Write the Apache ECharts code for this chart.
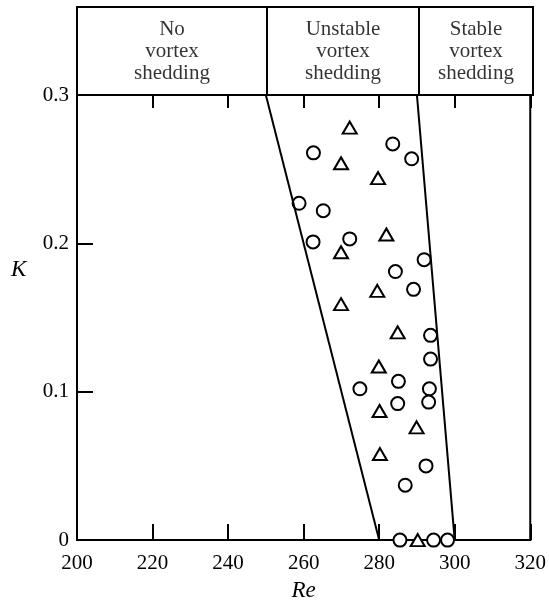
<!DOCTYPE html>
<html>
<head>
<meta charset="utf-8">
<script src="https://cdn.jsdelivr.net/npm/echarts@6/dist/echarts.min.js"></script>
<style>
html,body{margin:0;padding:0;background:#fff;}
#chart{width:549px;height:607px;}
</style>
</head>
<body>
<div id="chart"></div>
<script>
// ---- data ----
var xTicks = [200, 220, 240, 260, 280, 300, 320];
var yTicks = [0, 0.1, 0.2, 0.3];
var regionNames = ['No\nvortex\nshedding', 'Unstable\nvortex\nshedding', 'Stable\nvortex\nshedding'];
// boundaries: [Re at K=0.3, K=0.3] -> [Re at K=0, K=0]
var leftBoundary = [[250, 0.3], [280, 0]];
var rightBoundary = [[290, 0.3], [300, 0]];
var headerTop = 0.36;

var circleRe = [283.6, 262.6, 288.6, 258.8, 265.2, 262.5, 272.2, 291.9, 284.3, 289.1, 293.6, 293.6, 285.1, 274.9, 293.3, 293.1, 284.9, 292.4, 286.9, 285.5, 294.4, 298.1];
var circleK  = [0.267, 0.261, 0.257, 0.227, 0.222, 0.201, 0.203, 0.189, 0.181, 0.169, 0.138, 0.122, 0.107, 0.102, 0.102, 0.093, 0.092, 0.050, 0.037, 0, 0, 0];
var triRe = [272.2, 269.9, 279.7, 281.9, 269.9, 279.5, 269.9, 284.9, 279.9, 280.1, 289.9, 280.2, 290.2];
var triK  = [0.278, 0.254, 0.244, 0.206, 0.194, 0.168, 0.159, 0.140, 0.117, 0.087, 0.076, 0.058, 0];

// ---- build ----
var xMin = xTicks[0], xMax = xTicks[xTicks.length - 1];
var kMax = yTicks[yTicks.length - 1];
function zip(a, b) { return a.map(function (v, i) { return [v, b[i]]; }); }
var bounds = [xMin, leftBoundary[0][0], rightBoundary[0][0], xMax];
var regionCenters = regionNames.map(function (n, i) {
  return { value: [(bounds[i] + bounds[i + 1]) / 2, (kMax + headerTop) / 2], name: n };
});

var FONT = 'Liberation Serif';
var chart = echarts.init(document.getElementById('chart'));
chart.setOption({
  animation: false,
  backgroundColor: '#fff',
  grid: [
    { left: 77, right: 16, top: 95, bottom: 60, show: true, borderColor: '#000', borderWidth: 2, backgroundColor: 'transparent' },
    { left: 77, right: 16, top: 7, height: 88, show: true, borderColor: '#000', borderWidth: 2, backgroundColor: 'transparent' }
  ],
  graphic: [
    {
      type: 'text', left: 11, top: 258,
      style: { text: 'K', fill: '#000', font: 'italic 23px "Liberation Serif"' }
    }
  ],
  xAxis: [
    {
      gridIndex: 0, type: 'value', position: 'bottom', min: xMin, max: xMax, interval: 20,
      splitLine: { show: false },
      axisLine: { show: true, onZero: false, lineStyle: { color: '#000', width: 2 } },
      axisTick: { show: true, inside: true, length: 16, lineStyle: { color: '#000', width: 2 } },
      axisLabel: { show: true, color: '#000', fontFamily: FONT, fontSize: 21, margin: 13, showMinLabel: true, showMaxLabel: true },
      name: 'Re', nameLocation: 'middle', nameGap: 35,
      nameTextStyle: { color: '#000', fontFamily: FONT, fontSize: 23, fontStyle: 'italic' }
    },
    {
      gridIndex: 0, type: 'value', position: 'top', min: xMin, max: xMax, interval: 20,
      splitLine: { show: false },
      axisLine: { show: true, onZero: false, lineStyle: { color: '#000', width: 2 } },
      axisTick: { show: true, inside: true, length: 13, lineStyle: { color: '#000', width: 2 } },
      axisLabel: { show: false }
    },
    { gridIndex: 1, type: 'value', min: xMin, max: xMax, show: false }
  ],
  yAxis: [
    {
      gridIndex: 0, type: 'value', min: 0, max: kMax, interval: 0.1,
      splitLine: { show: false },
      axisLine: { show: true, onZero: false, lineStyle: { color: '#000', width: 2 } },
      axisTick: { show: true, inside: true, length: 16, lineStyle: { color: '#000', width: 2 } },
      axisLabel: {
        show: true, color: '#000', fontFamily: FONT, fontSize: 21, margin: 8,
        formatter: function (v) { return v === 0 ? '0' : v.toFixed(1); }
      }
    },
    { gridIndex: 1, type: 'value', min: kMax, max: headerTop, show: false }
  ],
  series: [
    {
      type: 'line', xAxisIndex: 0, yAxisIndex: 0, data: leftBoundary, symbol: 'none', clip: false,
      lineStyle: { color: '#000', width: 2 }, silent: true
    },
    {
      type: 'line', xAxisIndex: 0, yAxisIndex: 0, data: rightBoundary, symbol: 'none', clip: false,
      lineStyle: { color: '#000', width: 2 }, silent: true
    },
    {
      type: 'line', xAxisIndex: 2, yAxisIndex: 1, symbol: 'none', clip: false,
      data: [[leftBoundary[0][0], kMax], [leftBoundary[0][0], headerTop]],
      lineStyle: { color: '#000', width: 2 }, silent: true
    },
    {
      type: 'line', xAxisIndex: 2, yAxisIndex: 1, symbol: 'none', clip: false,
      data: [[rightBoundary[0][0], kMax], [rightBoundary[0][0], headerTop]],
      lineStyle: { color: '#000', width: 2 }, silent: true
    },
    {
      type: 'scatter', xAxisIndex: 2, yAxisIndex: 1, data: regionCenters, symbolSize: 0, silent: true,
      label: {
        show: true, position: 'inside', color: '#000', fontFamily: FONT, fontSize: 21, lineHeight: 22,
        align: 'center', verticalAlign: 'middle',
        formatter: function (p) { return p.name; }
      }
    },
    {
      type: 'scatter', xAxisIndex: 0, yAxisIndex: 0, data: zip(circleRe, circleK), clip: false,
      symbol: 'circle', symbolSize: 13,
      itemStyle: { color: '#fff', borderColor: '#000', borderWidth: 2, opacity: 1 }
    },
    {
      type: 'scatter', xAxisIndex: 0, yAxisIndex: 0, data: zip(triRe, triK), clip: false,
      symbol: 'triangle', symbolSize: [14, 12],
      itemStyle: { color: '#fff', borderColor: '#000', borderWidth: 2, opacity: 1 }
    }
  ]
});
</script>
</body>
</html>
